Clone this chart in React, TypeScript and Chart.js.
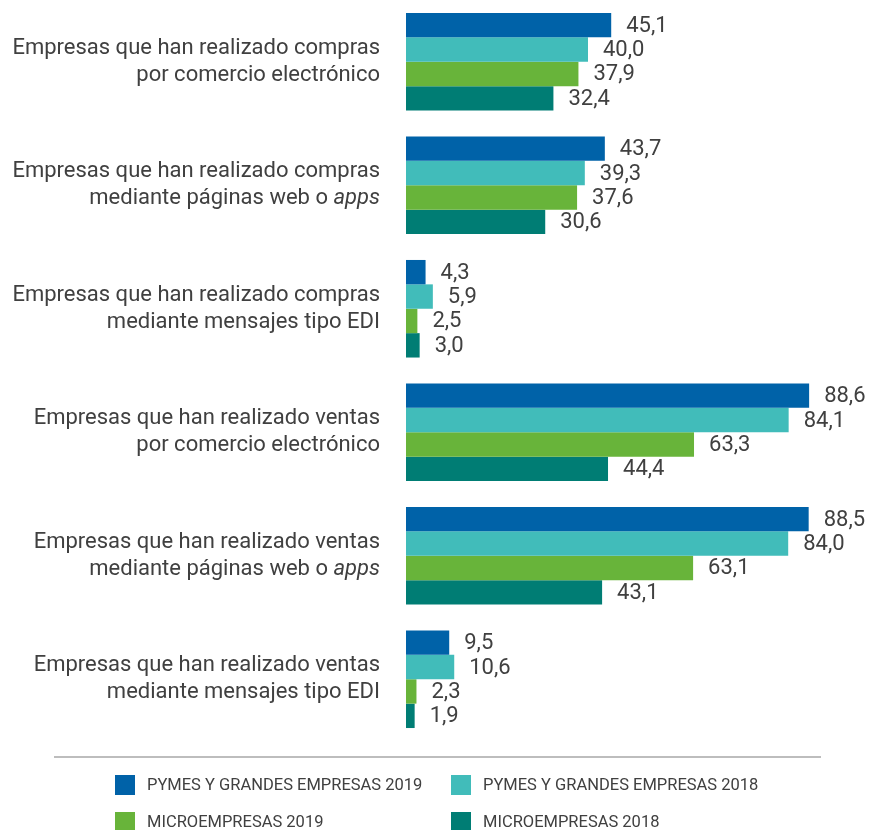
import React, { useEffect, useRef } from "react";
import { Chart, registerables } from "chart.js";

Chart.register(...registerables);

const categories: string[][] = [
  ["Empresas que han realizado compras", "por comercio electrónico"],
  ["Empresas que han realizado compras", "mediante páginas web o _apps_"],
  ["Empresas que han realizado compras", "mediante mensajes tipo EDI"],
  ["Empresas que han realizado ventas", "por comercio electrónico"],
  ["Empresas que han realizado ventas", "mediante páginas web o _apps_"],
  ["Empresas que han realizado ventas", "mediante mensajes tipo EDI"],
];

const seriesNames = [
  "PYMES Y GRANDES EMPRESAS 2019",
  "PYMES Y GRANDES EMPRESAS 2018",
  "MICROEMPRESAS 2019",
  "MICROEMPRESAS 2018",
];

const pymes2019 = [45.1, 43.7, 4.3, 88.6, 88.5, 9.5];
const pymes2018 = [40.0, 39.3, 5.9, 84.1, 84.0, 10.6];
const micro2019 = [37.9, 37.6, 2.5, 63.3, 63.1, 2.3];
const micro2018 = [32.4, 30.6, 3.0, 44.4, 43.1, 1.9];

const colors = ["#0062A8", "#41BCBA", "#68B43A", "#007D74"];

const TEXT = "#404040";
const FONT = "Roboto";

const labelsPlugin = {
  id: "customLabels",
  afterDatasetsDraw(chart: any) {
    const ctx = chart.ctx as CanvasRenderingContext2D;
    ctx.save();
    // value labels
    ctx.fillStyle = TEXT;
    ctx.font = `22px ${FONT}`;
    ctx.textAlign = "left";
    ctx.textBaseline = "middle";
    chart.data.datasets.forEach((ds: any, di: number) => {
      const meta = chart.getDatasetMeta(di);
      meta.data.forEach((bar: any, i: number) => {
        const v = ds.data[i] as number;
        ctx.fillText(v.toFixed(1).replace(".", ","), bar.x + 15, bar.y + 1);
      });
    });
    // category labels
    const yScale = chart.scales.y;
    const rightX = chart.chartArea.left - 26;
    const lineH = 27;
    categories.forEach((lines, i) => {
      const cy = yScale.getPixelForValue(i);
      const startY = cy - ((lines.length - 1) * lineH) / 2;
      lines.forEach((line, li) => {
        const y = startY + li * lineH;
        const segs = line.split("_").map((p, pi) => ({ text: p, italic: pi % 2 === 1 }));
        let total = 0;
        segs.forEach((s) => {
          ctx.font = `${s.italic ? "italic " : ""}22px ${FONT}`;
          total += ctx.measureText(s.text).width;
        });
        let x = rightX - total;
        ctx.textAlign = "left";
        ctx.textBaseline = "middle";
        segs.forEach((s) => {
          ctx.font = `${s.italic ? "italic " : ""}22px ${FONT}`;
          ctx.fillText(s.text, x, y);
          x += ctx.measureText(s.text).width;
        });
      });
    });
    ctx.restore();
  },
  afterDraw(chart: any) {
    const ctx = chart.ctx as CanvasRenderingContext2D;
    ctx.save();
    // separator
    ctx.strokeStyle = "#BDBDBD";
    ctx.lineWidth = 2;
    ctx.beginPath();
    ctx.moveTo(54, 757);
    ctx.lineTo(821, 757);
    ctx.stroke();
    // legend
    const cols = [115, 451];
    const rows = [785, 822];
    ctx.font = `16.5px ${FONT}`;
    ctx.textBaseline = "middle";
    ctx.textAlign = "left";
    chart.data.datasets.forEach((ds: any, di: number) => {
      const x = cols[di % 2];
      const y = rows[Math.floor(di / 2)];
      ctx.fillStyle = ds.backgroundColor;
      ctx.fillRect(x, y - 10, 20, 20);
      ctx.fillStyle = TEXT;
      ctx.fillText(ds.label, x + 32, y + 1);
    });
    ctx.restore();
  },
};

export default function App() {
  const ref = useRef<HTMLCanvasElement | null>(null);
  useEffect(() => {
    document.body.style.margin = "0";
    const canvas = ref.current!;
    const chart = new Chart(canvas, {
      type: "bar",
      data: {
        labels: categories.map((c) => c.join(" ").replace(/_/g, "")),
        datasets: [pymes2019, pymes2018, micro2019, micro2018].map((d, i) => ({
          label: seriesNames[i],
          data: d,
          backgroundColor: colors[i],
          borderWidth: 0,
          categoryPercentage: 0.79,
          barPercentage: 1,
        })),
      },
      options: {
        indexAxis: "y",
        animation: false,
        responsive: false,
        maintainAspectRatio: false,
        layout: { padding: { left: 406, right: 8, top: 0, bottom: 89 } },
        scales: {
          x: { display: false, min: 0, max: 100 },
          y: { display: false },
        },
        plugins: {
          legend: { display: false },
          tooltip: { enabled: false },
        },
      },
      plugins: [labelsPlugin],
    });
    return () => chart.destroy();
  }, []);
  return (
    <div style={{ position: "absolute", left: 0, top: 0, width: 869, height: 830 }}>
      <canvas ref={ref} width={869} height={830} style={{ width: 869, height: 830 }} />
    </div>
  );
}
